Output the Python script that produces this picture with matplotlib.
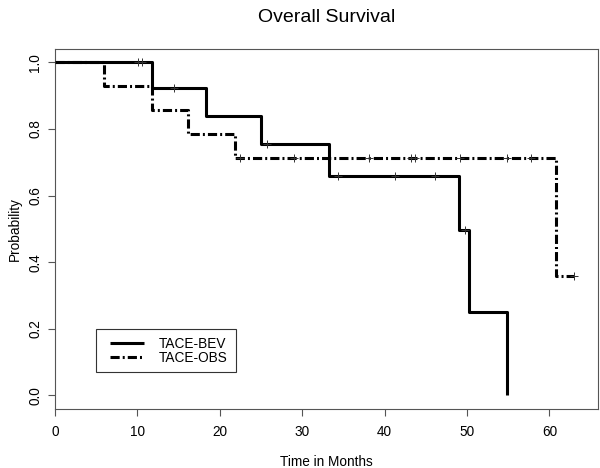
import numpy as np
import matplotlib
matplotlib.use("Agg")
import matplotlib.pyplot as plt
from matplotlib.patches import Rectangle

plt.rcParams['font.family'] = ['Liberation Sans', 'DejaVu Sans']

# ---- data ----
bev_times = [0, 11.8, 18.3, 25.0, 33.3, 49.0, 50.3, 54.8]
bev_surv = [1.0, 0.923, 0.840, 0.756, 0.659, 0.497, 0.250, 0.0]
bev_censor = [10.1, 10.5, 14.4, 25.7, 34.4, 41.3, 46.1, 49.7]

obs_times = [0, 5.9, 11.8, 16.1, 21.9, 60.8, 63.0]
obs_surv = [1.0, 0.929, 0.857, 0.786, 0.714, 0.357, 0.357]
obs_censor = [22.4, 29.0, 38.1, 43.2, 43.7, 49.1, 54.8, 57.8, 63.0]

labels = ["TACE-BEV", "TACE-OBS"]
x_ticks = [0, 10, 20, 30, 40, 50, 60]
y_ticks = [0.0, 0.2, 0.4, 0.6, 0.8, 1.0]


def surv_at(times, surv, t):
    idx = np.searchsorted(np.asarray(times), np.asarray(t), side='right') - 1
    return np.asarray(surv)[idx]


fs = 9.8
fig = plt.figure(figsize=(6.0, 4.68), dpi=100)
ax = fig.add_axes([55 / 600, 1 - 408.7 / 468, 543 / 600, 359.7 / 468])

lw = 2.2
l1, = ax.step(bev_times, bev_surv, where='post', color='black', lw=lw,
              solid_capstyle='butt', label=labels[0], zorder=3)
l2, = ax.step(obs_times, obs_surv, where='post', color='black', lw=lw,
              dashes=(3.0, 1.0, 0.65, 1.0), dash_capstyle='butt',
              label=labels[1], zorder=2)

ax.plot(bev_censor, surv_at(bev_times, bev_surv, bev_censor), ls='none',
        marker='+', ms=5.5, mew=0.7, color='#333333', zorder=4)
ax.plot(obs_censor, surv_at(obs_times, obs_surv, obs_censor), ls='none',
        marker='+', ms=5.5, mew=0.7, color='#333333', zorder=4)

ax.set_xlim(0, 65.9)
ax.set_ylim(-0.04, 1.04)
ax.set_xticks(x_ticks)
ax.set_xticklabels([str(v) for v in x_ticks])
ax.set_yticks(y_ticks)
ax.set_yticklabels([f"{v:.1f}" for v in y_ticks], rotation=90, va='center')

for sp in ax.spines.values():
    sp.set_color('#555555')
    sp.set_linewidth(0.8)
ax.tick_params(axis='both', direction='out', length=5, width=0.8,
               color='#555555', labelsize=fs, labelcolor='black')
ax.tick_params(axis='x', pad=6.5)
ax.tick_params(axis='y', pad=4)

# legend
ax.add_patch(Rectangle((0.075, 0.103), 0.258, 0.118, transform=ax.transAxes,
                       fill=False, edgecolor='#333333', lw=0.8, zorder=5))
leg = ax.legend(handles=[l1, l2], loc='center left',
                bbox_to_anchor=(0.1013, 0.161), frameon=False, borderpad=0,
                borderaxespad=0, handlelength=2.5, handletextpad=1.1,
                labelspacing=0.0, fontsize=fs)

fig.text(326.5 / 600, 1 - 22.3 / 468, "Overall Survival", ha='center',
         va='baseline', fontsize=14)
fig.text(326.5 / 600, 2 / 468, "Time in Months", ha='center', va='baseline',
         fontsize=fs)
fig.text(22 / 600, 1 - 229 / 468, "Probability", ha='right', va='center',
         rotation=90, fontsize=fs)

fig.savefig("out.png", dpi=100)
